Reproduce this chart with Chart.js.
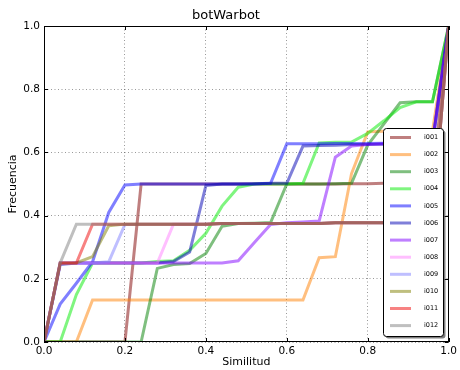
<!DOCTYPE html>
<html>
<head>
<meta charset="utf-8">
<script src="https://cdn.jsdelivr.net/npm/chart.js@4.4.1/dist/chart.umd.min.js"></script>
<style>
  html, body { margin: 0; padding: 0; background: #fff; }
</style>
</head>
<body>
<canvas id="chart" width="460" height="370"></canvas>
<script>
// x values (similitud), sampled every 0.04
const similitud = [0, 0.04, 0.08, 0.12, 0.16, 0.2, 0.24, 0.28, 0.32, 0.36, 0.4, 0.44, 0.48,
  0.52, 0.56, 0.6, 0.64, 0.68, 0.72, 0.76, 0.8, 0.84, 0.88, 0.92, 0.96, 1.0];

const names = ["i001", "i002", "i003", "i004", "i005", "i006", "i007", "i008", "i009", "i010", "i011", "i012"];

const i001 = [0, 0, 0, 0, 0, 0, 0.5, 0.5, 0.5, 0.5, 0.5, 0.5, 0.5, 0.5, 0.5, 0.5, 0.5, 0.5, 0.5, 0.501, 0.501, 0.502, 0.502, 0.502, 0.502, 1.0];
const i002 = [0, 0, 0, 0.133, 0.133, 0.133, 0.133, 0.133, 0.133, 0.133, 0.133, 0.133, 0.133, 0.133, 0.133, 0.133, 0.133, 0.267, 0.27, 0.533, 0.665, 0.667, 0.667, 0.667, 0.667, 1.0];
const i003 = [0, 0, 0, 0, 0, 0, 0, 0.233, 0.245, 0.248, 0.28, 0.366, 0.375, 0.376, 0.378, 0.5, 0.5, 0.5, 0.501, 0.502, 0.623, 0.69, 0.757, 0.76, 0.76, 1.0];
const i004 = [0, 0, 0.15, 0.25, 0.25, 0.25, 0.25, 0.255, 0.257, 0.29, 0.344, 0.43, 0.49, 0.5, 0.5, 0.5, 0.502, 0.63, 0.632, 0.633, 0.66, 0.7, 0.742, 0.76, 0.76, 1.0];
const i005 = [0, 0.12, 0.186, 0.254, 0.41, 0.497, 0.5, 0.5, 0.5, 0.5, 0.5, 0.5, 0.5, 0.5, 0.502, 0.627, 0.627, 0.627, 0.628, 0.628, 0.628, 0.629, 0.629, 0.63, 0.63, 1.0];
const i006 = [0, 0.245, 0.25, 0.25, 0.25, 0.25, 0.25, 0.25, 0.255, 0.285, 0.495, 0.5, 0.5, 0.501, 0.502, 0.502, 0.62, 0.622, 0.623, 0.625, 0.625, 0.626, 0.627, 0.628, 0.628, 1.0];
const i007 = [0, 0.25, 0.25, 0.25, 0.25, 0.25, 0.25, 0.25, 0.25, 0.25, 0.25, 0.25, 0.257, 0.315, 0.372, 0.377, 0.38, 0.383, 0.585, 0.62, 0.625, 0.627, 0.628, 0.63, 0.63, 1.0];
const i008 = [0, 0.25, 0.25, 0.25, 0.25, 0.25, 0.25, 0.25, 0.373, 0.373, 0.373, 0.375, 0.375, 0.375, 0.375, 0.375, 0.375, 0.375, 0.377, 0.377, 0.377, 0.377, 0.377, 0.377, 0.377, 1.0];
const i009 = [0, 0.25, 0.25, 0.25, 0.254, 0.372, 0.373, 0.373, 0.373, 0.373, 0.373, 0.375, 0.375, 0.375, 0.375, 0.375, 0.375, 0.375, 0.377, 0.377, 0.377, 0.377, 0.377, 0.377, 0.377, 1.0];
const i010 = [0, 0.25, 0.25, 0.27, 0.368, 0.373, 0.373, 0.373, 0.373, 0.373, 0.373, 0.375, 0.375, 0.375, 0.375, 0.375, 0.375, 0.375, 0.377, 0.377, 0.377, 0.377, 0.377, 0.377, 0.377, 1.0];
const i011 = [0, 0.25, 0.25, 0.373, 0.373, 0.373, 0.373, 0.373, 0.373, 0.373, 0.373, 0.375, 0.375, 0.375, 0.375, 0.375, 0.375, 0.375, 0.377, 0.377, 0.377, 0.377, 0.377, 0.377, 0.377, 1.0];
const i012 = [0, 0.25, 0.373, 0.373, 0.373, 0.373, 0.373, 0.373, 0.373, 0.373, 0.373, 0.375, 0.375, 0.375, 0.375, 0.375, 0.375, 0.375, 0.377, 0.377, 0.377, 0.377, 0.377, 0.377, 0.377, 1.0];

const series = [i001, i002, i003, i004, i005, i006, i007, i008, i009, i010, i011, i012];

const xTicks = [0, 0.2, 0.4, 0.6, 0.8, 1.0];
const yTicks = [0, 0.2, 0.4, 0.6, 0.8, 1.0];

// line colours (matplotlib alpha 0.5)
const colors = [
  "rgba(128,0,0,0.5)", "rgba(255,128,0,0.5)", "rgba(0,128,0,0.5)", "rgba(0,235,0,0.5)",
  "rgba(0,0,255,0.5)", "rgba(0,0,180,0.5)", "rgba(128,0,255,0.5)", "rgba(255,128,255,0.5)",
  "rgba(128,128,255,0.5)", "rgba(128,128,0,0.5)", "rgba(240,5,5,0.5)", "rgba(128,128,128,0.5)"
];

const FONT = "'DejaVu Sans', sans-serif";

// frame, inward ticks and the boxed legend, like matplotlib
const mplBits = {
  id: "mplBits",
  afterDatasetsDraw(chart) {
    const { ctx, chartArea: a, scales } = chart;
    ctx.save();
    ctx.strokeStyle = "#000";
    ctx.lineWidth = 1;
    ctx.beginPath();
    scales.x.ticks.forEach(t => {
      const px = Math.round(scales.x.getPixelForValue(t.value)) + 0.5;
      ctx.moveTo(px, a.bottom); ctx.lineTo(px, a.bottom - 4);
      ctx.moveTo(px, a.top); ctx.lineTo(px, a.top + 4);
    });
    scales.y.ticks.forEach(t => {
      const py = Math.round(scales.y.getPixelForValue(t.value)) + 0.5;
      ctx.moveTo(a.left, py); ctx.lineTo(a.left + 4, py);
      ctx.moveTo(a.right, py); ctx.lineTo(a.right - 4, py);
    });
    ctx.stroke();
    ctx.strokeRect(Math.round(a.left) + 0.5, Math.round(a.top) + 0.5,
      Math.round(a.right - a.left) - 1, Math.round(a.bottom - a.top) - 1);

    // legend
    const w = 60, h = 208;
    const lx = Math.round(a.right) - 6 - w, ly = Math.round(a.bottom) - 6 - h;
    const box = (x, y) => {
      ctx.beginPath();
      ctx.roundRect(x + 0.5, y + 0.5, w, h, 3);
    };
    box(lx + 2, ly + 2);
    ctx.fillStyle = "rgba(0,0,0,0.5)";
    ctx.fill();
    box(lx, ly);
    ctx.fillStyle = "#fff";
    ctx.fill();
    ctx.strokeStyle = "#000";
    ctx.stroke();

    ctx.font = "6.5px " + FONT;
    ctx.textBaseline = "middle";
    ctx.textAlign = "left";
    chart.data.datasets.forEach((ds, i) => {
      const yy = ly + 9.5 + i * 17.1;
      ctx.beginPath();
      ctx.strokeStyle = ds.borderColor;
      ctx.lineWidth = 3;
      ctx.moveTo(lx + 7, yy);
      ctx.lineTo(lx + 28, yy);
      ctx.stroke();
      ctx.fillStyle = "#000";
      ctx.fillText(ds.label, lx + 41, yy);
    });
    ctx.restore();
  }
};

const datasets = series.map((vals, i) => ({
  label: names[i],
  data: vals.map((v, k) => ({ x: similitud[k], y: v })),
  borderColor: colors[i],
  borderWidth: 3,
  pointRadius: 0,
  tension: 0,
  fill: false,
  clip: 0,
  order: series.length - i
}));

new Chart(document.getElementById("chart"), {
  type: "line",
  data: { datasets },
  plugins: [mplBits],
  options: {
    responsive: false,
    animation: false,
    devicePixelRatio: 1,
    layout: { padding: { left: 0, right: 8, top: 0, bottom: 0 } },
    plugins: {
      legend: { display: false },
      tooltip: { enabled: false },
      title: {
        display: true,
        text: "botWarbot",
        color: "#000",
        font: { family: FONT, size: 13, weight: "normal" },
        padding: { top: 8, bottom: 2.4 }
      }
    },
    scales: {
      x: {
        type: "linear",
        min: 0, max: 1,
        afterFit: s => { s.height = 28; },
        afterBuildTicks: s => { s.ticks = xTicks.map(v => ({ value: v })); },
        ticks: {
          color: "#000",
          font: { family: FONT, size: 10.5 },
          padding: 3,
          maxRotation: 0,
          callback: v => v.toFixed(1)
        },
        grid: { color: "rgba(0,0,0,0.5)", lineWidth: 0.8, drawTicks: false },
        border: { display: false, dash: [1, 2.5] },
        title: {
          display: true, text: "Similitud", color: "#000",
          font: { family: FONT, size: 11 }, padding: { top: 0, bottom: 1.4 }
        }
      },
      y: {
        type: "linear",
        min: 0, max: 1,
        afterFit: s => { s.width = 44; },
        afterBuildTicks: s => { s.ticks = yTicks.map(v => ({ value: v })); },
        ticks: {
          color: "#000",
          font: { family: FONT, size: 10.5 },
          padding: 4,
          callback: v => v.toFixed(1)
        },
        grid: { color: "rgba(0,0,0,0.5)", lineWidth: 0.8, drawTicks: false },
        border: { display: false, dash: [1, 2.5] },
        title: {
          display: true, text: "Frecuencia", color: "#000",
          font: { family: FONT, size: 11 }, padding: { top: 7, bottom: 0 }
        }
      }
    }
  }
});
</script>
</body>
</html>
